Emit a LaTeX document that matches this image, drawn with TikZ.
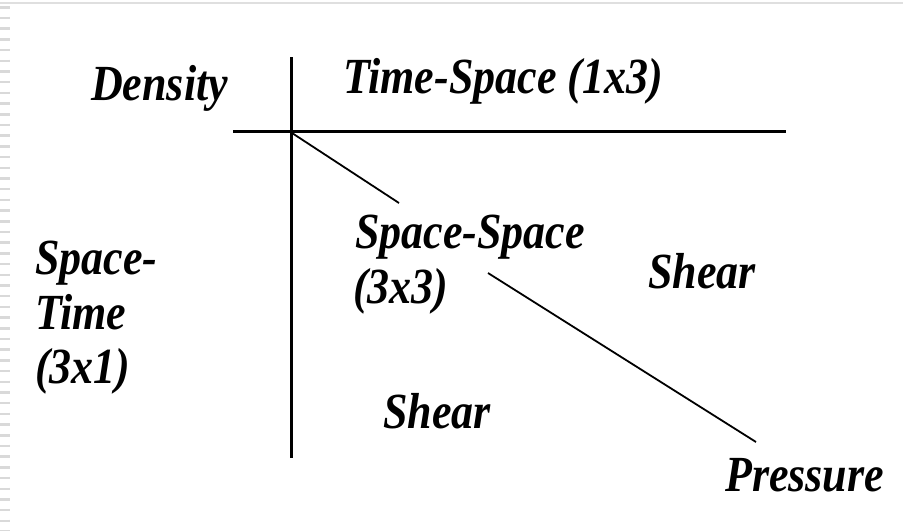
\documentclass[tikz,border=0pt]{standalone}
\usepackage{fontspec}
\setmainfont{Liberation Serif}
\newcommand{\stretchtxt}[1]{\scalebox{1}[1.15]{#1}}
\begin{document}
\begin{tikzpicture}[x=1pt,y=-1pt,
  lbl/.style={font=\fontsize{44}{52}\selectfont\bfseries\itshape, inner sep=0pt, anchor=base west},
  axis/.style={line width=3pt},
  diag/.style={line width=1.8pt}]
\useasboundingbox (0,0) rectangle (903,531);
\fill[white] (0,0) rectangle (903,531);
% frame hints
\draw[gray!25, line width=2pt] (0,3) -- (903,3);
\draw[gray!30, line width=10pt, dash pattern=on 2.5pt off 8.2pt] (5,6) -- (5,531);
% axes
\coordinate (vt) at (291,57);
\coordinate (vb) at (291,458);
\coordinate (hl) at (233,131);
\coordinate (hr) at (786,131);
\draw[axis] (vt) -- (vb);
\draw[axis] (hl) -- (hr);
% diagonal
\coordinate (d1) at (292,133);
\coordinate (d2) at (399,203);
\coordinate (d3) at (488,273);
\coordinate (d4) at (756,442);
\draw[diag] (d1) -- (d2);
\draw[diag] (d3) -- (d4);
% labels
\node[lbl] (density) at (91,100) {\stretchtxt{Density}};
\node[lbl] (ts) at (343,93) {\stretchtxt{Time-Space (1x3)}};
\node[lbl] (ss) at (355,248) {\stretchtxt{Space-Space}};
\node[lbl] (ss2) at (353,303) {\stretchtxt{(3x3)}};
\node[lbl] (shr) at (648,288) {\stretchtxt{Shear}};
\node[lbl] (shb) at (383,428) {\stretchtxt{Shear}};
\node[lbl] (pr) at (725,491) {\stretchtxt{Pressure}};
\node[lbl] (st1) at (35,274) {\stretchtxt{Space-}};
\node[lbl] (st2) at (35,329) {\stretchtxt{Time}};
\node[lbl] (st3) at (35,383) {\stretchtxt{(3x1)}};
\end{tikzpicture}
\end{document}
